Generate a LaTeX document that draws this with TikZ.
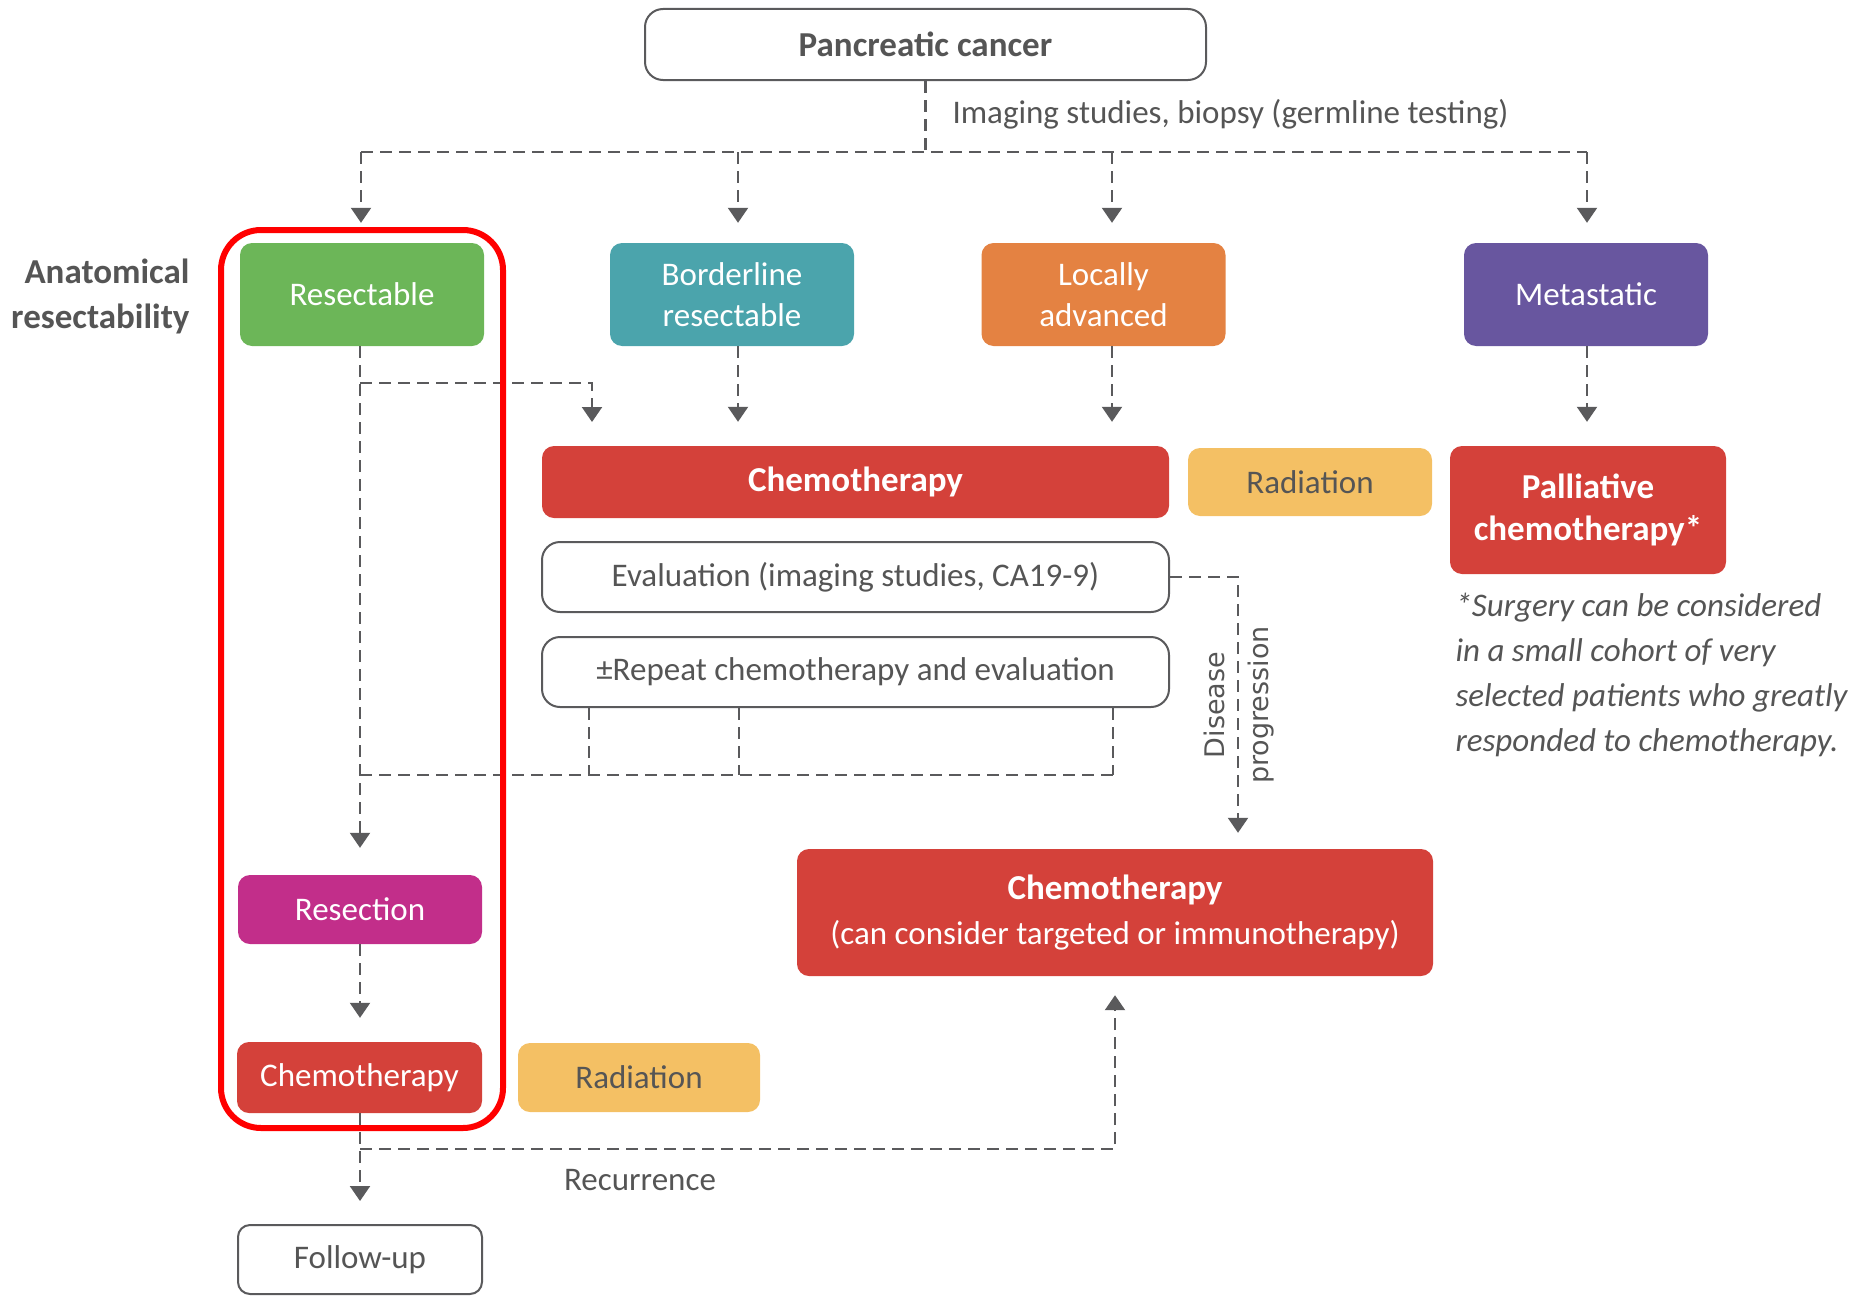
\documentclass[tikz,border=0pt]{standalone}
\usepackage{fontspec}
\setmainfont{Carlito}
\newfontfamily\djv{DejaVu Sans}
\usetikzlibrary{arrows.meta,calc}
\definecolor{cgreen}{HTML}{6CB658}
\definecolor{cteal}{HTML}{4BA4AC}
\definecolor{corange}{HTML}{E48242}
\definecolor{cpurple}{HTML}{68569F}
\definecolor{cred}{HTML}{D4413A}
\definecolor{cyellow}{HTML}{F4C064}
\definecolor{cmag}{HTML}{C22E8A}
\definecolor{tgray}{HTML}{555555}
\definecolor{lgray}{HTML}{5A5A5C}
\definecolor{hired}{HTML}{FF0000}
\newcommand{\rg}{\fontsize{33}{41}\selectfont}
\newcommand{\bd}{\fontsize{35}{42}\selectfont\bfseries}
\begin{document}
\begin{tikzpicture}[x=1pt,y=-1pt,
  txt/.style={font=\rg},
  cbox/.style={txt, rounded corners=12pt, minimum width=244pt, text=white, align=center, inner sep=0pt},
  wbox/.style={txt, rounded corners=18pt, draw=lgray, line width=2pt, fill=white, text=tgray, align=center, inner sep=0pt},
  flow/.style={draw=lgray, line width=2.2pt, dash pattern=on 12pt off 7pt},
  arr/.style={flow, -{Triangle[width=20pt,length=15pt]}}
]
\useasboundingbox (0,0) rectangle (1857,1298);

% top
\node[wbox, minimum width=561pt, minimum height=71pt, font=\bd] (pc) at (925.5,44.5) {Pancreatic cancer};
\node[txt, text=tgray, anchor=west] (img) at (949,114) {Imaging studies, biopsy (germline testing)};

% categories
\node[cbox, fill=cgreen, minimum height=103pt] (res) at (362,294.5) {Resectable};
\node[cbox, fill=cteal, minimum height=103pt] (bord) at (732,294.5) {Borderline\\resectable};
\node[cbox, fill=corange, minimum height=103pt] (la) at (1103.5,294.5) {Locally\\advanced};
\node[cbox, fill=cpurple, minimum height=103pt] (met) at (1586,294.5) {Metastatic};
\node[txt, text=tgray, font=\fontsize{35}{45}\selectfont\bfseries, align=right, anchor=east] (anat) at (193,296) {Anatomical\\resectability};

% second row
\node[cbox, fill=cred, minimum width=627pt, minimum height=72pt, font=\bd] (chemo1) at (855.5,482) {Chemotherapy};
\node[cbox, fill=cyellow, text=tgray, minimum height=68pt] (rad1) at (1310,482) {Radiation};
\node[cbox, fill=cred, minimum width=276pt, minimum height=128pt, font=\fontsize{35}{42}\selectfont\bfseries] (pall) at (1588,510) {Palliative\\chemotherapy*};
\node[txt, text=tgray, font=\fontsize{33}{45}\selectfont\itshape, align=left, anchor=north west] (note) at (1452,590) {*Surgery can be considered\\in a small cohort of very\\selected patients who greatly\\responded to chemotherapy.};

\node[wbox, minimum width=627pt, minimum height=70pt] (eval) at (855.5,577) {Evaluation (imaging studies, CA19-9)};
\node[wbox, minimum width=627pt, minimum height=70pt] (rep) at (855.5,672) {±Repeat chemotherapy and evaluation};

\node[cbox, fill=cred, minimum width=636pt, minimum height=127pt, font=\fontsize{33}{45}\selectfont] (chemo2) at (1115,912.5) {{\bd Chemotherapy}\\(can consider targeted or immunotherapy)};

\node[txt, text=tgray, font=\djv\fontsize{27}{30}\selectfont, rotate=90] (dis) at (1214,705) {Disease};
\node[txt, text=tgray, font=\djv\fontsize{27}{30}\selectfont, rotate=90] (prog) at (1261,705) {progression};

% left column
\node[cbox, fill=cmag, minimum height=69pt] (resect) at (360,909.5) {Resection};
\node[cbox, fill=cred, minimum width=245pt, minimum height=71pt] (chemo3) at (359.5,1077.5) {Chemotherapy};
\node[cbox, fill=cyellow, text=tgray, minimum width=242pt, minimum height=69pt] (rad2) at (639,1077.5) {Radiation};
\node[wbox, rounded corners=12pt, minimum width=244pt, minimum height=69pt] (follow) at (360,1259.5) {Follow-up};
\node[txt, text=tgray] (recur) at (640,1180) {Recurrence};

% coordinates
\coordinate (c1) at (361,152);
\coordinate (c2) at (738,152);
\coordinate (c3) at (1112,152);
\coordinate (c4) at (1587,152);
\coordinate (br) at (360,383);
\coordinate (brend) at (592,422);
\coordinate (j0) at (360,775);
\coordinate (j1) at (589,775);
\coordinate (j2) at (739,775);
\coordinate (j3) at (1113,775);
\coordinate (dp) at (1238,577);
\coordinate (rc) at (360,1149);

% connectors
\draw[flow] (pc.south) -- (pc.south |- c1);
\draw[flow] (c1) -- (c4);
\draw[arr, shorten >=20pt] (c1) -- (c1 |- res.north);
\draw[arr, shorten >=20pt] (c2) -- (c2 |- bord.north);
\draw[arr, shorten >=20pt] (c3) -- (c3 |- la.north);
\draw[arr, shorten >=20pt] (c4) -- (c4 |- met.north);

\draw[arr, shorten >=27pt] (br |- res.south) -- (br |- resect.north);
\draw[arr] (br) -| (brend);
\draw[arr, shorten >=24pt] (c2 |- bord.south) -- (c2 |- chemo1.north);
\draw[arr, shorten >=24pt] (c3 |- la.south) -- (c3 |- chemo1.north);
\draw[arr, shorten >=24pt] (c4 |- met.south) -- (c4 |- pall.north);

\draw[flow] (j1 |- rep.south) -- (j1);
\draw[flow] (j2 |- rep.south) -- (j2);
\draw[flow] (j3 |- rep.south) -- (j3);
\draw[flow] (j0) -- (j3);

\draw[arr, shorten >=16pt] (eval.east) -- (dp) -- (dp |- chemo2.north);

\draw[arr, shorten >=24pt] (resect.south) -- (resect.south |- chemo3.north);
\draw[arr, shorten >=23pt] (br |- chemo3.south) -- (br |- follow.north);
\draw[arr, shorten >=19pt] (rc) -| (chemo2.south);

% highlight
\draw[hired, line width=6pt, rounded corners=40pt] (221,230) rectangle (503,1128);
\end{tikzpicture}
\end{document}
